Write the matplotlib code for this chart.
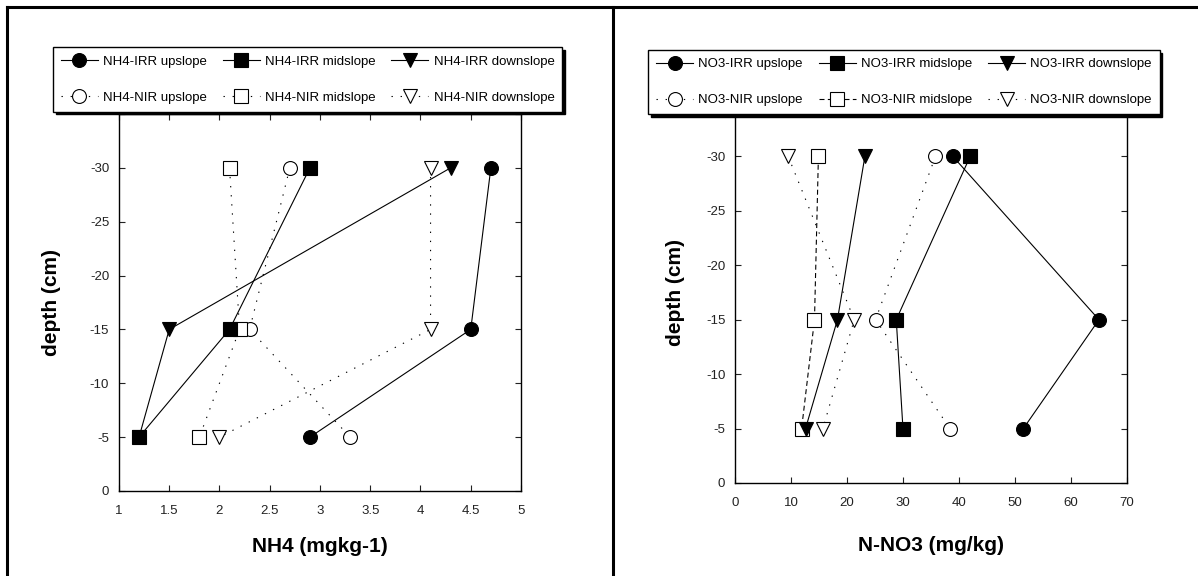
import numpy as np
import matplotlib
matplotlib.use('Agg')
import matplotlib.pyplot as plt
from matplotlib.lines import Line2D

plt.rcParams['font.family'] = ['Liberation Sans', 'DejaVu Sans']
plt.rcParams['axes.unicode_minus'] = False

depth = [-30, -15, -5]

# NH4 panel (mg/kg)
nh4_irr_up = [4.7, 4.5, 2.9]
nh4_irr_mid = [2.9, 2.1, 1.2]
nh4_irr_down = [4.3, 1.5, 1.2]
nh4_nir_up = [2.7, 2.3, 3.3]
nh4_nir_mid = [2.1, 2.2, 1.8]
nh4_nir_down = [4.1, 4.1, 2.0]

# NO3 panel (mg/kg)
no3_irr_up = [38.9, 65.0, 51.5]
no3_irr_mid = [42.0, 28.8, 30.0]
no3_irr_down = [23.2, 18.3, 12.6]
no3_nir_up = [35.8, 25.1, 38.4]
no3_nir_mid = [14.9, 14.2, 11.9]
no3_nir_down = [9.5, 21.3, 15.7]

nh4_labels = ['NH4-IRR upslope', 'NH4-IRR midslope', 'NH4-IRR downslope',
              'NH4-NIR upslope', 'NH4-NIR midslope', 'NH4-NIR downslope']
no3_labels = ['NO3-IRR upslope', 'NO3-IRR midslope', 'NO3-IRR downslope',
              'NO3-NIR upslope', 'NO3-NIR midslope', 'NO3-NIR downslope']

nh4_xticks = [1, 1.5, 2, 2.5, 3, 3.5, 4, 4.5, 5]
no3_xticks = [0, 10, 20, 30, 40, 50, 60, 70]
yticks = [0, -5, -10, -15, -20, -25, -30, -35]

dot = (0, (1.2, 7))
dash = (0, (4.5, 3))


def draw_panel(ax, vals, labels, mid_ls, xlim, xticks, xlabel, leg_xy, ylab_x, xlab_y):
    markers = ['o', 's', 'v', 'o', 's', 'v']
    styles = ['-', '-', '-', dot, mid_ls, dot]
    lines = []
    for i in range(6):
        face = 'k' if i < 3 else 'white'
        z = 3 if i < 3 else 2.5
        ln, = ax.plot(vals[i], depth, marker=markers[i], ls=styles[i], color='k', lw=0.8,
                      ms=10, mfc=face, mec='k', mew=0.8, label=labels[i], zorder=z)
        lines.append(ln)
    ax.set_xlim(xlim)
    ax.set_ylim(0, -35)
    ax.set_xticks(xticks)
    ax.set_xticklabels(['%g' % t for t in xticks])
    ax.set_yticks(yticks)
    # -35 label sits under the legend box
    ax.set_yticklabels(['%g' % t if t != -35 else '' for t in yticks])
    ax.tick_params(direction='in', length=4.5, width=0.8, top=True, right=True,
                   labelsize=9.5, colors='#222222')
    ax.tick_params(axis='x', pad=10)
    ax.tick_params(axis='y', pad=7)
    for s in ax.spines.values():
        s.set_linewidth(1.0)
    ax.set_xlabel(xlabel, fontsize=15, fontweight='bold', va='center')
    ax.set_ylabel('depth (cm)', fontsize=15, fontweight='bold', va='center')
    ax.yaxis.set_label_coords(ylab_x, 0.5)
    ax.xaxis.set_label_coords(0.5, xlab_y)
    order = [0, 3, 1, 4, 2, 5]
    leg = ax.legend([lines[i] for i in order], [labels[i] for i in order], ncol=3,
                    loc='center', bbox_to_anchor=leg_xy, bbox_transform=fig.transFigure,
                    fontsize=9.5, fancybox=False, shadow={'color': 'k', 'alpha': 1},
                    edgecolor='k', framealpha=1, handlelength=2.8, handletextpad=0.4,
                    columnspacing=1.2, labelspacing=1.8, borderpad=0.6)
    leg.get_frame().set_linewidth(1.0)
    leg.set_zorder(10)


fig = plt.figure(figsize=(11.98, 5.76), dpi=100)
ax1 = fig.add_axes([0.0993, 0.1476, 0.3356, 0.6545])
ax2 = fig.add_axes([0.6135, 0.1615, 0.3272, 0.6615])

draw_panel(ax1, [nh4_irr_up, nh4_irr_mid, nh4_irr_down, nh4_nir_up, nh4_nir_mid, nh4_nir_down],
           nh4_labels, dot, (1, 5), nh4_xticks, 'NH4 (mgkg-1)', (0.2567, 0.862), -0.167, -0.146)
draw_panel(ax2, [no3_irr_up, no3_irr_mid, no3_irr_down, no3_nir_up, no3_nir_mid, no3_nir_down],
           no3_labels, dash, (0, 70), no3_xticks, 'N-NO3 (mg/kg)', (0.7546, 0.8576), -0.151, -0.163)

# table-like border lines
bx = 7 / 1198
by = 1 - 7 / 576
dx = 613.5 / 1198
for xs, ys in [([bx, bx], [0, by]), ([bx, 1], [by, by]), ([dx, dx], [0, by])]:
    fig.add_artist(Line2D(xs, ys, transform=fig.transFigure, color='k', lw=2.2,
                          solid_capstyle='projecting'))

fig.savefig('out.png', dpi=100)
